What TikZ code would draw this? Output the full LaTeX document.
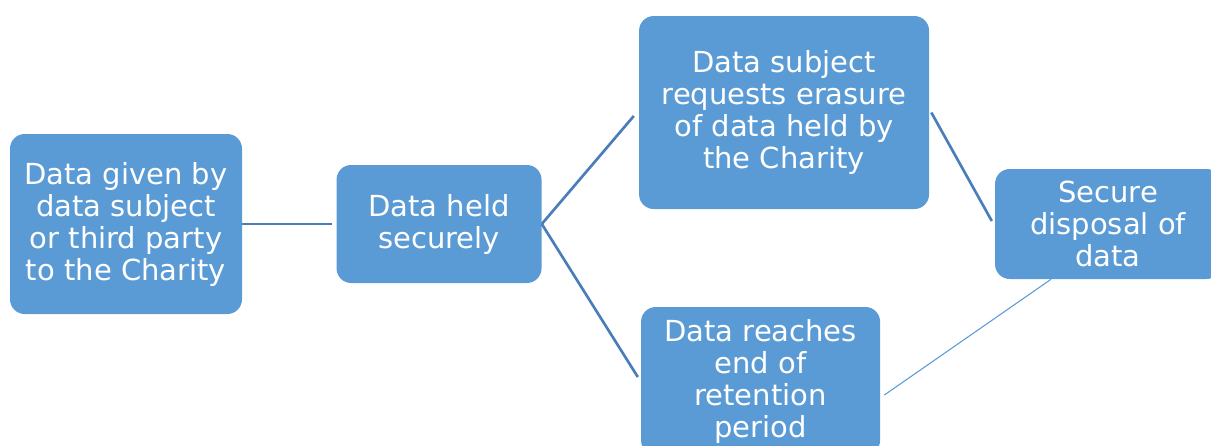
\documentclass[tikz,border=0pt]{standalone}
\usepackage{fontspec}
\setmainfont{DejaVu Sans}
\usetikzlibrary{positioning}

\definecolor{boxblue}{RGB}{91,155,213}
\definecolor{linkblue}{RGB}{74,126,187}

\tikzset{
	stage/.style={fill=boxblue, text=white, rounded corners=11pt, align=center,
		inner sep=0pt, font=\fontsize{21.75}{24}\selectfont},
	link/.style={draw=linkblue, line width=2pt},
	thinlink/.style={draw=boxblue, line width=0.8pt}
}

\begin{document}
\begin{tikzpicture}
	\useasboundingbox (0,0) rectangle (908.25pt,-334.5pt);
	
	\node[stage, minimum width=174pt, minimum height=135pt] (given) at (94.5pt,-168pt)
		{Data given by\\data subject\\or third party\\to the Charity};
	\node[stage, minimum width=153.75pt, minimum height=88.5pt, right=70.5pt of given] (held)
		{Data held\\securely};
	\node[stage, minimum width=217.5pt, minimum height=144.75pt, right=72.75pt of held, yshift=83.6pt] (erasure)
		{Data subject\\requests erasure\\of data held by\\the Charity};
	\node[stage, minimum width=179.25pt, minimum height=111pt, right=74.25pt of held, yshift=-117.75pt] (retention)
		{Data reaches\\end of\\retention\\period};
	\node[stage, minimum width=169.5pt, minimum height=82.5pt, right=339.75pt of held] (disposal)
		{Secure\\disposal of\\data};
	
	\draw[link] (given.east) -- ([xshift=-3pt]held.west);
	\draw[link] (held.east) -- ([xshift=-3.75pt, yshift=-2.6pt]erasure.west);
	\draw[link] (held.east) -- ([xshift=-2.25pt, yshift=3pt]retention.west);
	\draw[link] ([xshift=1.5pt]erasure.east) -- ([xshift=-2.25pt, yshift=2.25pt]disposal.west);
	\draw[thinlink] ([xshift=3pt, yshift=-10.5pt]retention.east) -- ([xshift=-42.75pt]disposal.south);
\end{tikzpicture}
\end{document}
